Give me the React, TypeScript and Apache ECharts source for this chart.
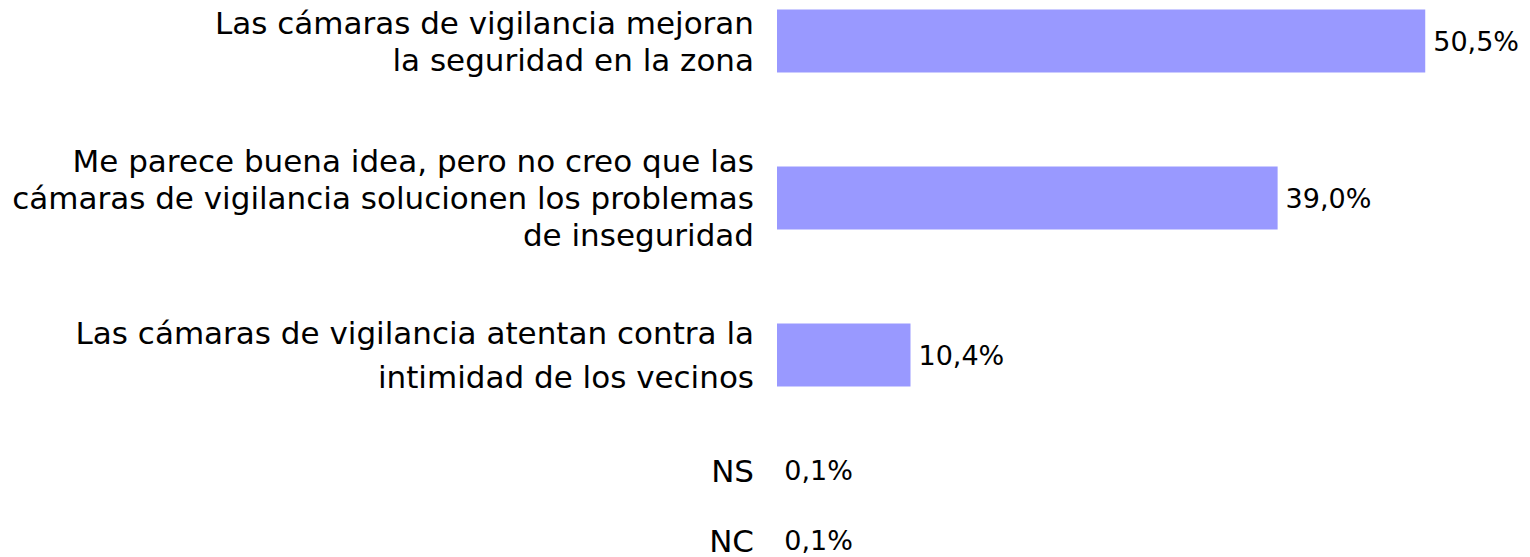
import React, { useEffect, useRef } from "react";
import * as echarts from "echarts";

const mainCategories = [
  "Las cámaras de vigilancia mejoran\nla seguridad en la zona",
  "Me parece buena idea, pero no creo que las\ncámaras de vigilancia solucionen los problemas\nde inseguridad",
  "Las cámaras de vigilancia atentan contra la\nintimidad de los vecinos",
];
const mainValues = [50.5, 39.0, 10.4];
const minorCategories = ["NS", "NC"];
const minorValues = [0.1, 0.1];

const FONT = "DejaVu Sans";
const FS = 31;
const VFS = 27;
const BAR_COLOR = "#9999FF";
const TEXT_COLOR = "#000000";

const fmt = (v: number) => v.toFixed(1).replace(".", ",") + "%";

export default function App() {
  const ref = useRef<HTMLDivElement>(null);
  useEffect(() => {
    if (!ref.current) return;
    const chart = echarts.init(ref.current, null, { renderer: "svg" });
    const labelStyle = {
      fontFamily: FONT,
      fontSize: FS,
      color: TEXT_COLOR,
    };
    const valueStyle = { ...labelStyle, fontSize: VFS };
    chart.setOption({
      animation: false,
      backgroundColor: "#ffffff",
      grid: [
        { left: 777, width: 706, top: -37.5, height: 471, outerBoundsMode: "none", containLabel: false },
        { left: 777, width: 706, top: 435.5, height: 140, outerBoundsMode: "none", containLabel: false },
      ],
      xAxis: [
        { type: "value", gridIndex: 0, min: 0, max: 55, show: false },
        { type: "value", gridIndex: 1, min: 0, max: 55, show: false },
      ],
      yAxis: [
        {
          type: "category",
          gridIndex: 0,
          inverse: true,
          data: mainCategories,
          axisLine: { show: false },
          axisTick: { show: false },
          axisLabel: {
            ...labelStyle,
            margin: 23,
            align: "right",
            lineHeight: 37,
            formatter: (value: string, index: number) =>
              index === 2
                ? value
                    .split("\n")
                    .map((l) => `{w|${l}}`)
                    .join("\n")
                : value,
            rich: {
              w: { ...labelStyle, lineHeight: 44, align: "right" },
            },
          },
        },
        {
          type: "category",
          gridIndex: 1,
          inverse: true,
          data: minorCategories,
          axisLine: { show: false },
          axisTick: { show: false },
          axisLabel: { ...labelStyle, margin: 23, align: "right" },
        },
      ],
      series: [
        {
          type: "bar",
          xAxisIndex: 0,
          yAxisIndex: 0,
          data: mainValues,
          barWidth: 63,
          itemStyle: { color: BAR_COLOR },
          label: {
            show: true,
            position: "right",
            distance: 8,
            ...valueStyle,
            formatter: (p: any) => fmt(p.value),
          },
        },
        {
          type: "bar",
          xAxisIndex: 1,
          yAxisIndex: 1,
          data: minorValues,
          barWidth: 30,
          itemStyle: { color: "rgba(153,153,255,0)" },
          label: {
            show: true,
            position: "right",
            distance: 6,
            ...valueStyle,
            formatter: (p: any) => fmt(p.value),
          },
        },
      ],
    });
    return () => chart.dispose();
  }, []);
  return (
    <div
      ref={ref}
      style={{ position: "absolute", left: 0, top: 0, width: 1530, height: 557 }}
    />
  );
}
